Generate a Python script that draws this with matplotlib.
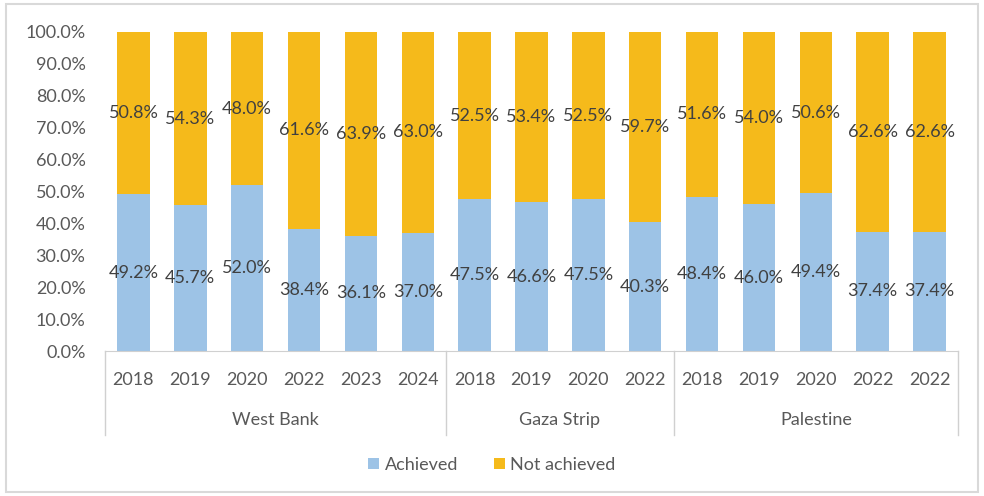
import matplotlib.pyplot as plt
import matplotlib.patches as patches
import numpy as np

# data
years = ["2018", "2019", "2020", "2022", "2023", "2024",
         "2018", "2019", "2020", "2022",
         "2018", "2019", "2020", "2022", "2022"]
groups = ["West Bank", "Gaza Strip", "Palestine"]
group_sizes = [6, 4, 5]
achieved = [49.2, 45.7, 52.0, 38.4, 36.1, 37.0, 47.5, 46.6, 47.5, 40.3, 48.4, 46.0, 49.4, 37.4, 37.4]
not_achieved = [50.8, 54.3, 48.0, 61.6, 63.9, 63.0, 52.5, 53.4, 52.5, 59.7, 51.6, 54.0, 50.6, 62.6, 62.6]

blue = "#9DC3E6"
gold = "#F5BA1B"
txt = "#404040"
grid_gray = "#D0D0D0"
fs = 13

plt.rcParams['font.family'] = ['Lato', 'DejaVu Sans']

fig = plt.figure(figsize=(9.84, 4.96), dpi=100)
ax = fig.add_axes([105 / 984, 1 - 351 / 496, 853 / 984, 319 / 496])

x = np.arange(len(years))
ach = np.array(achieved)
nach = np.array(not_achieved)
tot = ach + nach
a_frac = ach / tot
n_frac = nach / tot

ax.bar(x, a_frac, width=0.57, color=blue, label="Achieved")
ax.bar(x, n_frac, width=0.57, bottom=a_frac, color=gold, label="Not achieved")

for i in range(len(x)):
    ax.text(x[i], a_frac[i] / 2, f"{achieved[i]:.1f}%", ha="center", va="center",
            fontsize=fs, color=txt)
    ax.text(x[i], a_frac[i] + n_frac[i] / 2, f"{not_achieved[i]:.1f}%", ha="center",
            va="center", fontsize=fs, color=txt)

ax.set_xlim(-0.5, len(x) - 0.5)
ax.set_ylim(0, 1)
ax.set_yticks(np.arange(0, 1.01, 0.1))
ax.set_yticklabels([f"{v * 100:.1f}%" for v in np.arange(0, 1.01, 0.1)])
ax.tick_params(axis="y", length=0, pad=14, labelsize=fs, labelcolor="#595959")
ax.set_xticks([])
for s in ["top", "right", "left"]:
    ax.spines[s].set_visible(False)
ax.spines["bottom"].set_color(grid_gray)

# year labels and group labels below the axis
trans = ax.get_xaxis_transform()
for i, y in enumerate(years):
    ax.text(x[i], -0.092, y, transform=trans, ha="center",
            va="center", fontsize=fs, color="#595959")

edges = np.concatenate([[0], np.cumsum(group_sizes)]) - 0.5
for e in edges:
    ax.plot([e, e], [0, -0.263], transform=trans, color=grid_gray, lw=1, clip_on=False)
for g, lo, hi in zip(groups, edges[:-1], edges[1:]):
    ax.text((lo + hi) / 2, -0.215, g, transform=trans, ha="center", va="center",
            fontsize=fs, color="#595959")

leg = fig.legend(loc="center", bbox_to_anchor=(0.5, 1 - 465 / 496), ncol=2, frameon=False,
                 fontsize=fs, handlelength=0.6, handleheight=0.6, handletextpad=0.3,
                 columnspacing=2.0)
for t in leg.get_texts():
    t.set_color("#595959")

fig.patches.append(patches.Rectangle((6 / 984, 4 / 496), 972 / 984, 488 / 496,
                                     transform=fig.transFigure, fill=False,
                                     edgecolor="#D9D9D9", lw=1.5))

fig.savefig("out.png", dpi=100)
